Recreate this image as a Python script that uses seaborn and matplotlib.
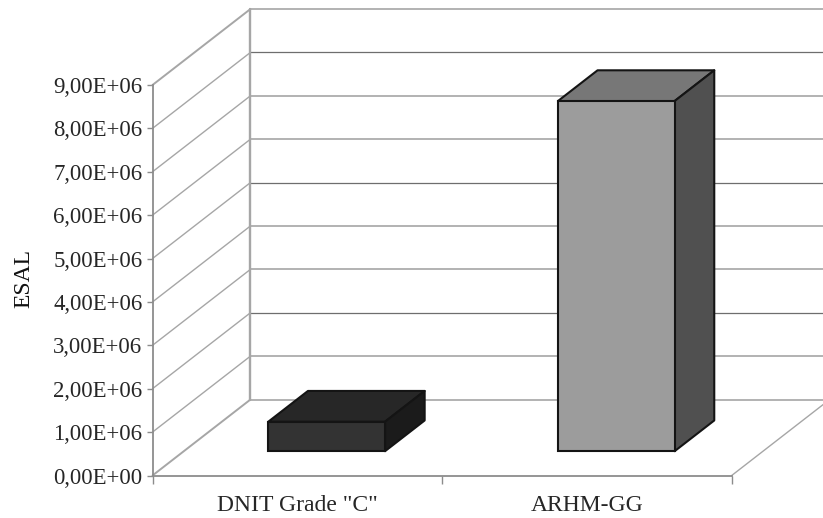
import matplotlib
matplotlib.use("Agg")
import matplotlib.pyplot as plt
from matplotlib.patches import Polygon
import numpy as np
import pandas as pd
import seaborn as sns

materials = ['DNIT Grade "C"', "ARHM-GG"]
esal = [0.68e6, 8.07e6]
y_ticks = [0, 1e6, 2e6, 3e6, 4e6, 5e6, 6e6, 7e6, 8e6, 9e6]
y_tick_labels = ["0,00E+00", "1,00E+06", "2,00E+06", "3,00E+06", "4,00E+06",
                 "5,00E+06", "6,00E+06", "7,00E+06", "8,00E+06", "9,00E+06"]
front_colors = ["#333333", "#9c9c9c"]
top_colors = ["#272727", "#777777"]
side_colors = ["#1b1b1b", "#505050"]
dark_rules = [2e6, 5e6, 8e6]

GRID = "#a6a6a6"
DARK_GRID = "#6e6e6e"
AXIS = "#8c8c8c"
EDGE = "#141414"
DEPTH_X = 0.338      # floor depth, in category units
DEPTH_Y = 1.75e6     # floor depth, in value units
BAR_START_X = 0.30   # sideways shift of a bar's front face, as a share of the depth
BAR_START_Y = 0.32   # upward shift of a bar's front face, as a share of the depth
BAR_DEPTH = 0.405    # how much of the floor depth a bar takes up
BAR_WIDTH = 0.403

sns.set_theme(style="white")
plt.rcParams["font.family"] = ["Liberation Serif", "DejaVu Serif"]
plt.rcParams["text.color"] = "#111111"

fig = plt.figure(figsize=(8.23, 5.18), dpi=100)
ax = fig.add_axes([152.5 / 823, (518 - 475.5) / 518, 579.2 / 823, 390.5 / 518])

df = pd.DataFrame({"material": materials, "esal": esal})
sns.barplot(data=df, x="material", y="esal", hue="material", palette=front_colors,
            saturation=1, width=BAR_WIDTH, legend=False, ax=ax,
            edgecolor=EDGE, linewidth=1.5, zorder=5)
ax.set_xlim(-0.5, 1.5)
ax.set_ylim(0, 9e6)

# Back wall and left wall rules
x0, x1 = ax.get_xlim()
for i, v in enumerate(y_ticks):
    heavy = i in (0, len(y_ticks) - 1)
    lw = 1.4 if heavy else 1.0
    ax.plot([x0, x0 + DEPTH_X], [v, v + DEPTH_Y], color=GRID, lw=lw, clip_on=False, zorder=1)
    back_color = DARK_GRID if v in dark_rules else GRID
    ax.plot([x0 + DEPTH_X, x1 + DEPTH_X], [v + DEPTH_Y, v + DEPTH_Y],
            color=back_color, lw=0.9 if v in dark_rules else 1.2, clip_on=False, zorder=1)
ax.plot([x0 + DEPTH_X, x0 + DEPTH_X], [DEPTH_Y, 9e6 + DEPTH_Y], color=GRID, lw=1.7,
        clip_on=False, zorder=1)
ax.plot([x1, x1 + DEPTH_X], [0, DEPTH_Y], color=GRID, lw=1.0, clip_on=False, zorder=1)

# Push each bar back onto the floor and extrude its top and side faces
for patch, top_c, side_c in zip(ax.patches, top_colors, side_colors):
    patch.set_x(patch.get_x() + BAR_START_X * DEPTH_X)
    patch.set_y(BAR_START_Y * DEPTH_Y)
    patch.set_clip_on(False)
    left = patch.get_x()
    right = left + patch.get_width()
    base = patch.get_y()
    top = base + patch.get_height()
    dx = BAR_DEPTH * DEPTH_X
    dy = BAR_DEPTH * DEPTH_Y
    ax.add_patch(Polygon([(left, top), (right, top), (right + dx, top + dy), (left + dx, top + dy)],
                         closed=True, facecolor=top_c, edgecolor=EDGE, linewidth=1.5,
                         joinstyle="round", clip_on=False, zorder=4))
    ax.add_patch(Polygon([(right, base), (right + dx, base + dy), (right + dx, top + dy), (right, top)],
                         closed=True, facecolor=side_c, edgecolor=EDGE, linewidth=1.5,
                         joinstyle="round", clip_on=False, zorder=4))

sns.despine(ax=ax, top=True, right=True)
for side in ("left", "bottom"):
    ax.spines[side].set_color(AXIS)
    ax.spines[side].set_linewidth(1.3)

ax.set_yticks(y_ticks)
ax.set_yticklabels(y_tick_labels)
ax.tick_params(axis="y", length=4, width=1.0, color=AXIS, labelsize=16.4, pad=3.2, left=True)
ax.set_xticks([0, 1])
ax.set_xticklabels(materials)
ax.set_xticks([-0.5, 0.5, 1.5], minor=True)
ax.tick_params(axis="x", which="major", length=0, labelsize=17, pad=14)
ax.tick_params(axis="x", which="minor", length=6, width=1.0, color=AXIS, bottom=True)
ax.set_xlabel("")
ax.set_ylabel("ESAL", fontsize=17, color="#111111", va="center")
ax.yaxis.set_label_coords((24 - 152.5) / 579.2, (475.5 - 279) / 390.5)
ax.patch.set_alpha(0)

fig.savefig("out.png", dpi=100, facecolor="white")
